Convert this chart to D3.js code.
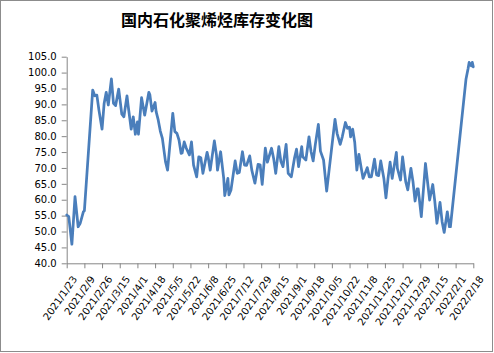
<!DOCTYPE html>
<html>
<head>
<meta charset="utf-8">
<script src="https://cdn.jsdelivr.net/npm/d3@7"></script>
<style>
  body { margin: 0; background: #fff; }
  svg { display: block; }
  .tick text { font-family: "DejaVu Sans", Verdana, sans-serif; font-size: 10px; fill: #000; }
</style>
</head>
<body>
<svg id="chart" width="494" height="353"></svg>
<script>
// dates of each reading (gaps are holidays)
const dates = [
  "2021/1/23", "2021/1/25", "2021/1/28", "2021/1/31", "2021/2/3", "2021/2/5", "2021/2/8", "2021/2/9",
  "2021/2/17", "2021/2/19", "2021/2/21", "2021/2/23", "2021/2/26", "2021/2/28", "2021/3/2", "2021/3/4",
  "2021/3/7", "2021/3/9", "2021/3/11", "2021/3/14", "2021/3/17", "2021/3/19", "2021/3/22", "2021/3/23",
  "2021/3/26", "2021/3/28", "2021/3/30", "2021/4/1", "2021/4/2", "2021/4/5", "2021/4/8", "2021/4/12",
  "2021/4/13", "2021/4/15", "2021/4/18", "2021/4/19", "2021/4/21", "2021/4/23", "2021/4/25", "2021/4/28",
  "2021/4/30", "2021/5/5", "2021/5/7", "2021/5/9", "2021/5/11", "2021/5/13", "2021/5/14", "2021/5/16",
  "2021/5/18", "2021/5/21", "2021/5/23", "2021/5/25", "2021/5/28", "2021/5/30", "2021/6/1", "2021/6/3",
  "2021/6/7", "2021/6/8", "2021/6/10", "2021/6/14", "2021/6/16", "2021/6/17", "2021/6/20", "2021/6/23",
  "2021/6/24", "2021/6/27", "2021/6/28", "2021/6/30", "2021/7/4", "2021/7/6", "2021/7/8", "2021/7/11",
  "2021/7/13", "2021/7/15", "2021/7/18", "2021/7/20", "2021/7/23", "2021/7/26", "2021/7/28", "2021/7/30",
  "2021/8/2", "2021/8/4", "2021/8/8", "2021/8/10", "2021/8/12", "2021/8/15", "2021/8/17", "2021/8/19",
  "2021/8/22", "2021/8/24", "2021/8/27", "2021/8/30", "2021/9/1", "2021/9/3", "2021/9/6", "2021/9/7",
  "2021/9/10", "2021/9/13", "2021/9/15", "2021/9/17", "2021/9/19", "2021/9/22", "2021/9/24", "2021/9/27",
  "2021/9/30", "2021/10/8", "2021/10/10", "2021/10/13", "2021/10/15", "2021/10/18", "2021/10/20", "2021/10/22",
  "2021/10/23", "2021/10/25", "2021/10/27", "2021/10/29", "2021/10/31", "2021/11/2", "2021/11/4", "2021/11/6",
  "2021/11/8", "2021/11/10", "2021/11/12", "2021/11/15", "2021/11/17", "2021/11/19", "2021/11/21", "2021/11/24",
  "2021/11/26", "2021/11/28", "2021/11/30", "2021/12/2", "2021/12/6", "2021/12/7", "2021/12/10", "2021/12/12",
  "2021/12/15", "2021/12/17", "2021/12/20", "2021/12/22", "2021/12/24", "2021/12/26", "2021/12/27", "2021/12/30",
  "2022/1/3", "2022/1/7", "2022/1/10", "2022/1/12", "2022/1/14", "2022/1/17", "2022/1/19", "2022/1/21",
  "2022/1/24", "2022/1/26", "2022/1/27", "2022/2/11", "2022/2/13", "2022/2/14", "2022/2/16", "2022/2/17",
  "2022/2/18"
];

// inventory (10k tonnes)
const inventory = [
  55.2, 54.7, 46.0, 61.0, 51.5, 52.6, 56.2, 56.5,
  94.5, 92.7, 92.9, 88.2, 82.2, 90.3, 93.8, 89.8,
  98.0, 90.3, 89.6, 94.8, 86.9, 86.1, 92.7, 89.8,
  82.2, 86.1, 80.6, 84.5, 80.6, 92.1, 86.6, 93.8,
  93.0, 87.9, 90.6, 87.7, 85.1, 81.6, 79.3, 72.0,
  69.3, 87.2, 81.4, 80.9, 78.8, 74.6, 74.7, 78.2,
  76.2, 74.1, 78.2, 70.9, 67.2, 73.5, 73.2, 68.3,
  74.9, 73.5, 69.3, 78.5, 74.1, 69.3, 75.1, 66.7,
  61.3, 66.7, 61.5, 63.1, 72.2, 68.3, 68.6, 75.1,
  70.9, 70.8, 73.8, 69.3, 65.2, 71.1, 71.0, 64.8,
  76.2, 71.8, 76.2, 73.0, 68.3, 76.7, 72.0, 70.4,
  77.4, 68.3, 67.2, 73.0, 75.9, 70.4, 76.7, 73.5,
  72.5, 79.8, 75.1, 72.2, 77.2, 83.7, 75.3, 72.5,
  62.7, 85.3, 80.9, 77.4, 79.8, 84.3, 82.5, 82.8,
  79.8, 82.2, 78.0, 69.3, 74.3, 70.4, 66.7, 68.3,
  70.1, 67.2, 67.2, 72.8, 67.8, 67.6, 72.2, 66.7,
  60.6, 66.7, 71.8, 66.7, 74.9, 69.9, 66.2, 73.5,
  65.7, 63.1, 69.9, 65.7, 59.6, 63.4, 63.4, 54.7,
  71.4, 59.9, 64.8, 59.4, 52.6, 59.2, 53.1, 49.7,
  56.2, 51.5, 51.5, 98.0, 101.3, 103.2, 102.1, 103.2,
  101.8
];

// category labels on the x axis (every 17 days)
const xTickLabels = [
  "2021/1/23", "2021/2/9", "2021/2/26", "2021/3/15", "2021/4/1", "2021/4/18", "2021/5/5", "2021/5/22",
  "2021/6/8", "2021/6/25", "2021/7/12", "2021/7/29", "2021/8/15", "2021/9/1", "2021/9/18", "2021/10/5",
  "2021/10/22", "2021/11/8", "2021/11/25", "2021/12/12", "2021/12/29", "2022/1/15", "2022/2/1", "2022/2/18"
];
const yTicks = [40, 45, 50, 55, 60, 65, 70, 75, 80, 85, 90, 95, 100, 105];

const title = "国内石化聚烯烃库存变化图";

const parse = d3.timeParse("%Y/%m/%d");
const fmt = d3.timeFormat("%Y/%-m/%-d");
const data = dates.map((d, i) => ({ date: parse(d), value: inventory[i] }));

const svg = d3.select("#chart");
const plot = { left: 66.7, right: 473.3, top: 56.7, bottom: 263.3 };

// outer frame
svg.append("rect")
  .attr("x", 0.5).attr("y", 0.5)
  .attr("width", 492).attr("height", 351)
  .attr("fill", "#fff")
  .attr("stroke", "#8c8c8c");

svg.append("text")
  .attr("x", 217).attr("y", 25.5)
  .attr("text-anchor", "middle")
  .style("font-family", "'Noto Sans CJK SC', sans-serif")
  .style("font-weight", "bold")
  .style("font-size", "16px")
  .text(title);

const x = d3.scaleTime()
  .domain([parse(xTickLabels[0]), parse(xTickLabels[xTickLabels.length - 1])])
  .range([plot.left, plot.right]);

const y = d3.scaleLinear()
  .domain([40, 105])
  .range([plot.bottom, plot.top]);

// y axis
const gy = svg.append("g")
  .attr("transform", "translate(" + plot.left + ",0)")
  .call(d3.axisLeft(y).tickValues(yTicks).tickFormat(d3.format(".1f")).tickSize(5).tickSizeOuter(0).tickPadding(5));
gy.selectAll("path, line").attr("stroke", "#868686");

// x axis
const gx = svg.append("g")
  .attr("transform", "translate(0," + plot.bottom + ")")
  .call(d3.axisBottom(x).tickValues(xTickLabels.map(parse)).tickFormat(fmt).tickSize(5).tickSizeOuter(0));
gx.selectAll("path, line").attr("stroke", "#868686");
gx.selectAll("text")
  .attr("text-anchor", "end")
  .attr("dy", null)
  .attr("dominant-baseline", "middle")
  .attr("transform", "translate(8,14) rotate(-55)")
  .attr("x", 0).attr("y", 0);

// the line
svg.append("path")
  .datum(data)
  .attr("fill", "none")
  .attr("stroke", "#4a7ebb")
  .attr("stroke-width", 2.75)
  .attr("stroke-linejoin", "round")
  .attr("stroke-linecap", "round")
  .attr("d", d3.line()
    .x(d => x(d.date))
    .y(d => y(d.value)));
</script>
</body>
</html>
